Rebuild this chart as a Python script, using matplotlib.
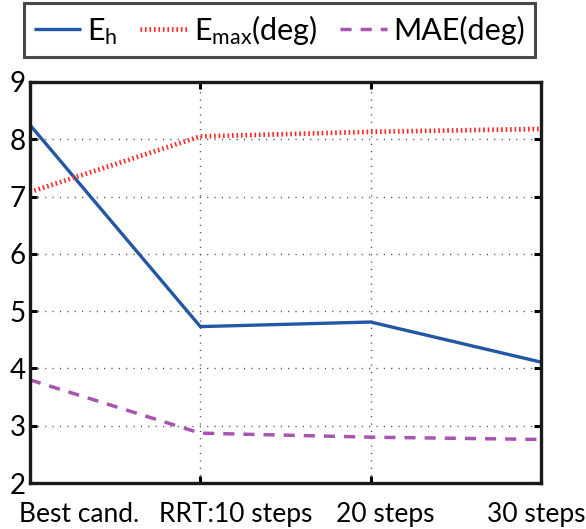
import numpy as np
import matplotlib
matplotlib.use('Agg')
import matplotlib.pyplot as plt
import matplotlib.transforms as mtransforms

plt.rcParams['font.family'] = ['Lato', 'DejaVu Sans']
plt.rcParams['mathtext.fontset'] = 'custom'
plt.rcParams['mathtext.rm'] = 'Lato'
plt.rcParams['mathtext.it'] = 'Lato'

# data
stages = ['Best cand.', 'RRT:10 steps', '20 steps', '30 steps']
e_h = [8.25, 4.73, 4.81, 4.11]
e_max = [7.08, 8.05, 8.13, 8.18]
mae = [3.80, 2.87, 2.80, 2.76]

# pixel shifts of the x labels as they sit in the original figure
label_shift = [49, 35, 15, -5]

fig = plt.figure(figsize=(5.86, 5.29), dpi=100)
ax = fig.add_axes([30 / 586, 1 - 483 / 529, 511 / 586, 401 / 529])

x = np.arange(1, len(stages) + 1)
ax.plot(x, e_h, color='#2456a6', lw=2.4, solid_capstyle='butt',
        label=r'E$_{\mathrm{h}}$')
ax.plot(x, e_max, color='#ff2a2a', lw=3.4, dashes=(0.35, 0.6),
        label=r'E$_{\mathrm{max}}$(deg)')
ax.plot(x, mae, color='#a855b0', lw=2.5, dashes=(3.2, 2.6),
        label='MAE(deg)')

ax.set_xlim(1, 4)
ax.set_ylim(2, 9)
ax.set_xticks(x)
ax.set_xticklabels(stages, fontsize=19)
ax.set_yticks(range(2, 10))
ax.tick_params(axis='y', labelsize=20, pad=3)
ax.tick_params(axis='x', pad=14)
ax.tick_params(direction='in', length=5, width=2.2, top=True, right=True)
ax.grid(True, color='#444444', linestyle=(0, (0.8, 4.5)), lw=1.0)

for lab, dx in zip(ax.get_xticklabels(), label_shift):
    lab.set_transform(lab.get_transform() +
                      mtransforms.ScaledTranslation(dx / 100, 0, fig.dpi_scale_trans))

for s in ax.spines.values():
    s.set_linewidth(2.4)
    s.set_color('#1a1a1a')

leg = fig.legend(loc='upper left', ncol=3, fontsize=22,
                 bbox_to_anchor=(24 / 586, 1 - 56 / 529, 511 / 586, 53 / 529),
                 mode='expand', frameon=True, fancybox=False,
                 handlelength=1.55, handletextpad=0.2, columnspacing=0.4,
                 borderpad=0.32, borderaxespad=0)
leg.get_frame().set_edgecolor('#1a1a1a')
leg.get_frame().set_linewidth(2.2)

fig.savefig('out.png', dpi=100)
